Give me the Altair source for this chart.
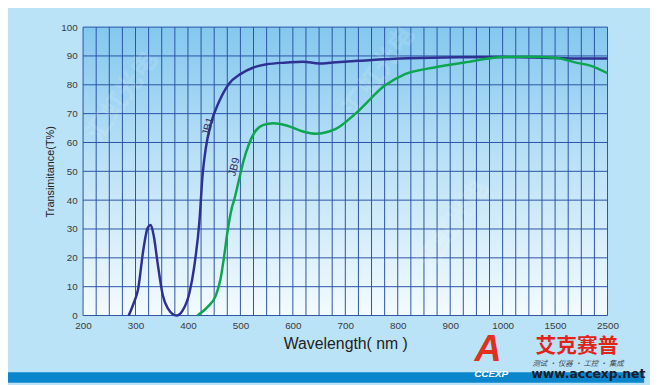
import altair as alt
import pandas as pd

# ---- data ----
jb1_wl = [287, 296, 305, 315, 323, 329, 335, 342, 352, 362, 378, 390, 403, 412, 422,
          428, 434, 443, 459, 478, 500, 525, 550, 588, 619, 650, 676, 725, 820, 1010,
          1500, 2000, 2500]
jb1_t = [0, 4, 9.2, 22.9, 30.3, 31.4, 27.4, 18.4, 7, 2.4, 0, 1.8, 8, 17, 33,
         49, 58, 66, 74, 80.3, 83.7, 86, 87.1, 87.7, 88, 87.4, 87.7, 88.3, 89.2, 89.6,
         89.3, 89.1, 89.1]
jb9_wl = [418, 437, 453, 462, 469, 475, 484, 488, 497, 506, 516, 528, 544, 563, 588,
          619, 644, 669, 682, 720, 776, 814, 870, 927, 1010, 1250, 1500, 1900, 2200, 2500]
jb9_t = [0, 2.9, 6.9, 12.6, 20.6, 28.6, 37.6, 40, 46.8, 53.6, 59.3, 63.8, 66.1, 66.7, 65.9,
         63.8, 63, 63.8, 64.7, 70.1, 79.8, 83.7, 86, 87.7, 89.6, 89.7, 89.4, 87.7, 86.5, 84]

series_names = ["JB1", "JB9"]
series_colors = ["#2e3192", "#0ca64f"]
label_wl = [439, 489]
label_t = [65.5, 51.5]

tick_labels = ["200", "300", "400", "500", "600", "700", "800", "900", "1000", "1500", "2500"]
x_grid = [i * 0.25 for i in range(41)]
y_grid = list(range(0, 101, 10))

df = pd.concat([
    pd.DataFrame({"wl": jb1_wl, "T": jb1_t, "s": "JB1"}),
    pd.DataFrame({"wl": jb9_wl, "T": jb9_t, "s": "JB9"}),
])
lab_df = pd.DataFrame({"wl": label_wl, "T": label_t, "s": series_names})

pos_expr = ("datum.wl <= 1000 ? (datum.wl - 200) / 100 : "
            "(datum.wl <= 1500 ? 8 + (datum.wl - 1000) / 500 : 9 + (datum.wl - 1500) / 1000)")

lab_arr = "[" + ",".join("'" + t + "'" for t in tick_labels) + "]"
label_expr = f"datum.value % 1 != 0 ? '' : {lab_arr}[datum.value]"

FONT = "Liberation Sans"
GRID = "#2b52a6"
TXT = "#3a3a3a"

x_scale = alt.Scale(domain=[0, 10], nice=False, zero=False)
y_scale = alt.Scale(domain=[0, 100], nice=False)

x_axis = alt.Axis(values=list(range(11)), labelExpr=label_expr,
                  grid=False, ticks=False, domain=False, labelFontSize=10,
                  labelColor=TXT, labelFont=FONT, labelPadding=5,
                  labelOverlap=False, labelFlush=False,
                  title="Wavelength( nm )", titleFont=FONT, titleFontSize=16,
                  titleFontWeight="normal", titleColor="#222222", titlePadding=5)
y_axis = alt.Axis(values=y_grid, grid=False, ticks=False, domain=False,
                  labelFontSize=10, labelColor=TXT, labelFont=FONT,
                  labelPadding=6, labelOverlap=False, labelFlush=False,
                  title="Transimitance(T%)", titleFont=FONT,
                  titleFontSize=11, titleFontWeight="normal",
                  titleColor="#222222", titlePadding=5)

color_scale = alt.Scale(domain=series_names, range=series_colors)

one = pd.DataFrame({"k": [0]})

plot_bg = alt.Chart(one).mark_rect(
    color=alt.LinearGradient(gradient="linear", x1=0, x2=0, y1=0, y2=1,
                             stops=[alt.GradientStop(color="#84c8ef", offset=0),
                                    alt.GradientStop(color="#bfe3f7", offset=0.5),
                                    alt.GradientStop(color="#f3fbff", offset=1)])
).encode(x=alt.value(0), x2=alt.value(531), y=alt.value(0), y2=alt.value(292))

vgrid = alt.Chart(pd.DataFrame({"p": x_grid})).mark_rule(
    color=GRID, strokeWidth=1).encode(x=alt.X("p:Q", scale=x_scale, axis=x_axis))
hgrid = alt.Chart(pd.DataFrame({"T": y_grid})).mark_rule(
    color=GRID, strokeWidth=1).encode(y=alt.Y("T:Q", scale=y_scale, axis=y_axis))

lines = alt.Chart(df).transform_calculate(p=pos_expr).mark_line(
    strokeWidth=2.5, interpolate="monotone"
).encode(x=alt.X("p:Q", scale=x_scale, axis=x_axis),
         y=alt.Y("T:Q", scale=y_scale, axis=y_axis),
         color=alt.Color("s:N", scale=color_scale, legend=None),
         detail="s:N")

labels = alt.Chart(lab_df).transform_calculate(p=pos_expr).mark_text(
    angle=285, fontSize=11, font=FONT, color="#333366"
).encode(x=alt.X("p:Q", scale=x_scale, axis=x_axis),
         y=alt.Y("T:Q", scale=y_scale, axis=y_axis), text="s:N")

bar = alt.Chart(one).mark_rect(color="#0a86cd").encode(
    x=alt.value(-76), x2=alt.value(568), y=alt.value(349.5), y2=alt.value(360))

wm_text = ["汇虹光电", "汇虹光电", "汇虹光电"]
wm_x = [40, 300, 375]
wm_y = [70, 45, 200]
wm_layers = [alt.Chart(one).mark_text(text=t, angle=305, fontSize=26,
                                      font="Noto Sans CJK SC", fontWeight="bold",
                                      color="#ffffff", opacity=0.12)
             .encode(x=alt.value(xx), y=alt.value(yy))
             for t, xx, yy in zip(wm_text, wm_x, wm_y)]

logo_a = alt.Chart(one).mark_text(
    text="A", fontSize=38, font=FONT, fontWeight="bold", fontStyle="italic",
    color="#e0301e", align="center", baseline="middle"
).encode(x=alt.value(410), y=alt.value(327))
logo_cc = alt.Chart(one).mark_text(
    text="CCEXP", fontSize=10, font=FONT, fontWeight="bold", fontStyle="italic",
    color="#ffffff", align="left", baseline="middle"
).encode(x=alt.value(396), y=alt.value(351))
logo_cn = alt.Chart(one).mark_text(
    text="艾克赛普", fontSize=21, font="Noto Sans CJK SC", fontWeight="bold",
    color="#e2231a", align="left", baseline="middle"
).encode(x=alt.value(458), y=alt.value(323.5))
logo_sub = alt.Chart(one).mark_text(
    text="测试 · 仪器 · 工控 · 集成", fontSize=7.5, font="Noto Sans CJK SC",
    fontStyle="italic", color="#444444", align="left", baseline="middle"
).encode(x=alt.value(455), y=alt.value(341))
logo_url = alt.Chart(one).mark_text(
    text="www.accexp.net", fontSize=12.5, font="DejaVu Sans", fontWeight="bold",
    color="#1a1a2a", align="left", baseline="middle"
).encode(x=alt.value(454), y=alt.value(351))

chart = alt.layer(
    plot_bg, vgrid, hgrid, *wm_layers, lines, labels, bar,
    logo_a, logo_cc, logo_cn, logo_sub, logo_url
).properties(
    width=531, height=292,
    autosize=alt.AutoSizeParams(type="none"),
    padding={"left": 76, "top": 17, "right": 43, "bottom": 68},
    background="#bbe3f7",
).configure_view(stroke=None)

chart.save("out.html", embed_options={"renderer": "svg", "actions": False})
